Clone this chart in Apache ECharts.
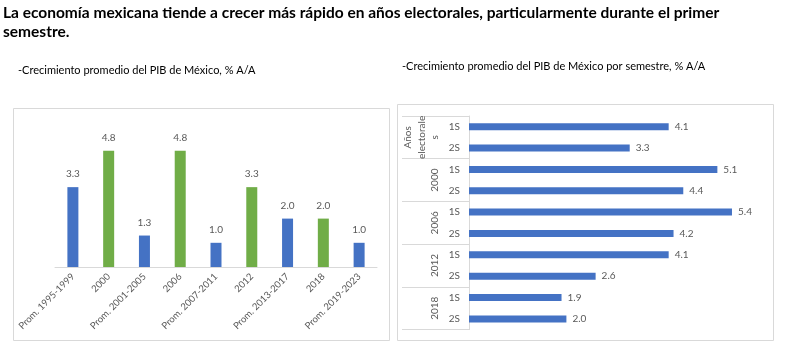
<!DOCTYPE html>
<html>
<head>
<meta charset="utf-8">
<script src="https://cdn.jsdelivr.net/npm/echarts@6/dist/echarts.min.js"></script>
<style>
  html, body { margin: 0; padding: 0; background: #ffffff; }
  #chart { width: 790px; height: 358px; }
</style>
</head>
<body>
<div id="chart"></div>
<script>
const titleText = 'La economía mexicana tiende a crecer más rápido en años electorales, particularmente durante el primer\nsemestre.';
const leftSubtitle = '-Crecimiento promedio del PIB de México, % A/A';
const rightSubtitle = '-Crecimiento promedio del PIB de México por semestre, % A/A';

const leftCategories = ['Prom. 1995-1999', '2000', 'Prom. 2001-2005', '2006', 'Prom. 2007-2011', '2012', 'Prom. 2013-2017', '2018', 'Prom. 2019-2023'];
const leftValues = [3.3, 4.8, 1.3, 4.8, 1.0, 3.3, 2.0, 2.0, 1.0];
const leftIsElection = [false, true, false, true, false, true, false, true, false];

const rightSemesters = ['1S', '2S', '1S', '2S', '1S', '2S', '1S', '2S', '1S', '2S'];
const rightGroups = ['Años\nelectorale\ns', '2000', '2006', '2012', '2018'];
const rightValues = [4.1, 3.3, 5.1, 4.4, 5.4, 4.2, 4.1, 2.6, 1.9, 2.0];

const BLUE = '#4472C4';
const GREEN = '#70AD47';
const LABEL = '#595959';
const FONT = 'Lato';

const chart = echarts.init(document.getElementById('chart'), null, { renderer: 'canvas' });

chart.setOption({
  animation: false,
  backgroundColor: '#ffffff',
  textStyle: { fontFamily: FONT },
  title: [
    { text: titleText, left: 3, top: 3.5, padding: 0,
      textStyle: { fontFamily: FONT, fontSize: 15.5, fontWeight: 'bold', color: '#000000', lineHeight: 19 } },
    { text: leftSubtitle, left: 18, top: 63, padding: 0,
      textStyle: { fontFamily: FONT, fontSize: 11, fontWeight: 'normal', color: '#000000', lineHeight: 14 } },
    { text: rightSubtitle, left: 402, top: 59, padding: 0,
      textStyle: { fontFamily: FONT, fontSize: 11, fontWeight: 'normal', color: '#000000', lineHeight: 14 } }
  ],
  graphic: [
    { type: 'rect', shape: { x: 13.5, y: 108.5, width: 376, height: 232 },
      style: { fill: 'none', stroke: '#d9d9d9', lineWidth: 1 }, silent: true },
    { type: 'rect', shape: { x: 397.5, y: 104.5, width: 376, height: 236 },
      style: { fill: 'none', stroke: '#d9d9d9', lineWidth: 1 }, silent: true }
  ],
  grid: [
    { left: 55, top: 146, width: 322, height: 121 },
    { left: 469, top: 116, width: 292.2, height: 213.6 }
  ],
  xAxis: [
    { type: 'category', gridIndex: 0, data: leftCategories,
      axisLine: { lineStyle: { color: '#d9d9d9' } },
      axisTick: { show: false },
      axisLabel: { rotate: 45, color: LABEL, fontSize: 9.5, margin: 8, interval: 0 } },
    { type: 'value', gridIndex: 1, min: 0, max: 6, show: false }
  ],
  yAxis: [
    { type: 'value', gridIndex: 0, min: 0, max: 5, show: false },
    { type: 'category', gridIndex: 1, data: rightSemesters, inverse: true,
      axisLine: { show: true, lineStyle: { color: '#d9d9d9' } },
      axisTick: { show: false },
      axisLabel: { color: LABEL, fontSize: 10, margin: 9, interval: 0 } },
    { type: 'category', gridIndex: 1, data: rightGroups, inverse: true, position: 'left', offset: 0,
      axisLine: { show: false },
      axisTick: { show: true, length: 67, lineStyle: { color: '#d9d9d9' } },
      axisLabel: { rotate: 90, color: LABEL, fontSize: 10, margin: 27, interval: 0, lineHeight: 13.5, align: 'center', verticalAlign: 'bottom' } }
  ],
  series: [
    { type: 'bar', xAxisIndex: 0, yAxisIndex: 0, barWidth: 11,
      data: leftValues.map((v, i) => ({ value: v, itemStyle: { color: leftIsElection[i] ? GREEN : BLUE } })),
      label: { show: true, position: 'top', distance: 8, color: LABEL, fontSize: 10,
        formatter: p => p.value.toFixed(1) } },
    { type: 'bar', xAxisIndex: 1, yAxisIndex: 1, barWidth: 7,
      itemStyle: { color: BLUE },
      data: rightValues,
      label: { show: true, position: 'right', distance: 6, color: LABEL, fontSize: 10,
        formatter: p => p.value.toFixed(1) } }
  ]
});
</script>
</body>
</html>
